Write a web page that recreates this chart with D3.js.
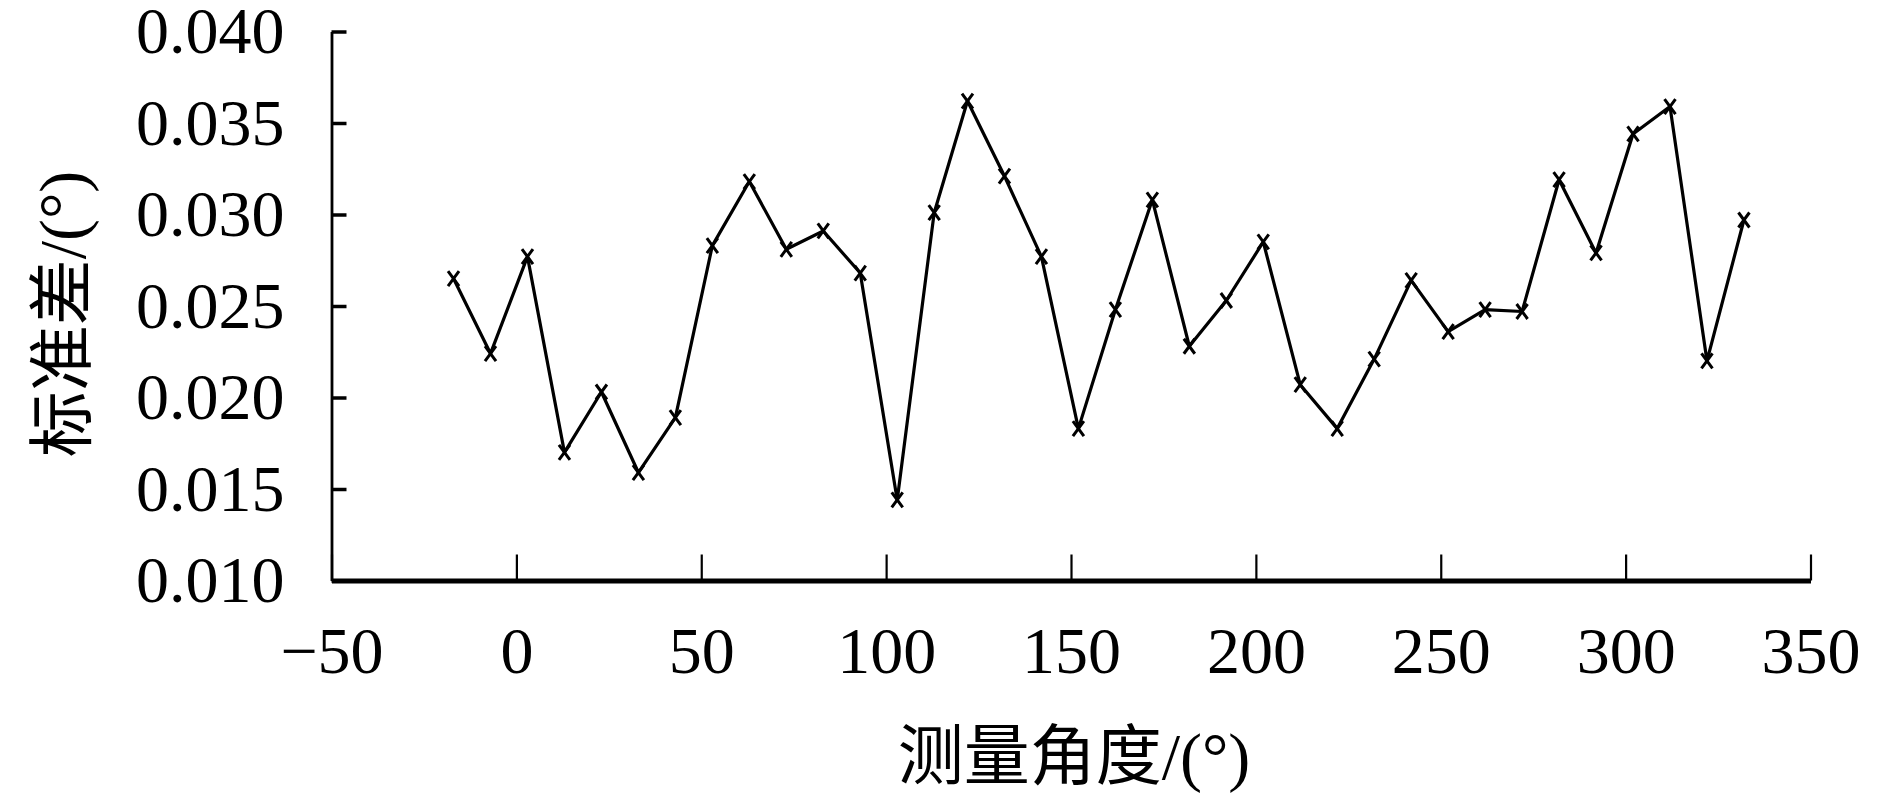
<!DOCTYPE html>
<html>
<head>
<meta charset="utf-8">
<script src="https://cdn.jsdelivr.net/npm/d3@7/dist/d3.min.js"></script>
<style>
  body { margin: 0; background: #fff; }
  .tick text { font-family: "Liberation Serif", "Times New Roman", serif; font-size: 66px; fill: #000; }
  .axis-title { font-family: "Liberation Serif", "Noto Sans CJK SC", serif; font-size: 66px; fill: #000; }
</style>
</head>
<body>
<div class="chart"></div>
<script>
// measured angle (deg) and standard deviation (deg)
var angles = [-17, -7, 3, 13, 23, 33, 43, 53, 63, 73, 83, 93, 103, 113, 122, 132, 142, 152,
              162, 172, 182, 192, 202, 212, 222, 232, 242, 252, 262, 272, 282, 292, 302, 312, 322, 332];
var stdDev = [0.0265, 0.0224, 0.0277, 0.0170, 0.0203, 0.0159, 0.0189, 0.0283, 0.0318, 0.0281,
              0.0291, 0.0268, 0.0144, 0.0301, 0.0362, 0.0321, 0.0277, 0.0183, 0.0248, 0.0308,
              0.0228, 0.0253, 0.0285, 0.0207, 0.0183, 0.0221, 0.0264, 0.0236, 0.0248, 0.0247,
              0.0319, 0.0279, 0.0344, 0.0359, 0.0220, 0.0297];

var xTicks = [-50, 0, 50, 100, 150, 200, 250, 300, 350];
var yTicks = [0.010, 0.015, 0.020, 0.025, 0.030, 0.035, 0.040];

var xLabel = "测量角度/(°)";
var yLabel = "标准差/(°)";

var svgWidth = 1890;
var svgHeight = 798;

var svg = d3.select(".chart")
    .append("svg")
    .attr("width", svgWidth)
    .attr("height", svgHeight)
    .style("display", "block");

var xScale = d3.scaleLinear().domain([-50, 350]).range([331.5, 1810.5]);
var yScale = d3.scaleLinear().domain([0.010, 0.040]).range([580.5, 31.5]);

// y axis
var leftAxis = d3.axisLeft(yScale)
    .tickValues(yTicks)
    .tickFormat(d3.format(".3f"))
    .tickSizeInner(-15)
    .tickSizeOuter(0)
    .tickPadding(47);

var yAxisG = svg.append("g")
    .attr("transform", "translate(" + xScale.range()[0] + ",0)")
    .call(leftAxis);
yAxisG.select(".domain").attr("stroke", "#000").attr("stroke-width", 2.8);
yAxisG.selectAll(".tick line").attr("stroke", "#000").attr("stroke-width", 3.5);

// x axis
var bottomAxis = d3.axisBottom(xScale)
    .tickValues(xTicks)
    .tickSizeInner(-26)
    .tickSizeOuter(0)
    .tickPadding(46);

var xAxisG = svg.append("g")
    .attr("transform", "translate(0," + yScale.range()[0] + ")")
    .call(bottomAxis);
xAxisG.select(".domain").attr("stroke", "#000").attr("stroke-width", 5);
xAxisG.selectAll(".tick line").attr("stroke", "#000").attr("stroke-width", 2.2);

var points = angles.map(function(a, i) { return { x: a, y: stdDev[i] }; });

var line = d3.line()
    .x(function(d) { return xScale(d.x); })
    .y(function(d) { return yScale(d.y); });

svg.append("path")
    .datum(points)
    .attr("d", line)
    .attr("fill", "none")
    .attr("stroke", "#000")
    .attr("stroke-width", 3.2)
    .attr("stroke-linejoin", "round");

svg.selectAll(".marker")
    .data(points)
    .enter()
    .append("path")
    .attr("class", "marker")
    .attr("transform", function(d) {
        return "translate(" + xScale(d.x) + "," + yScale(d.y) + ")";
    })
    .attr("d", "M-5.5,-7.5L5.5,7.5M-5.5,7.5L5.5,-7.5")
    .attr("stroke", "#000")
    .attr("stroke-width", 3)
    .attr("fill", "none");

// axis titles
svg.append("text")
    .attr("class", "axis-title")
    .attr("x", 1074)
    .attr("y", 779)
    .attr("text-anchor", "middle")
    .text(xLabel);

svg.append("text")
    .attr("class", "axis-title")
    .attr("transform", "translate(62,314) rotate(-90)")
    .attr("text-anchor", "middle")
    .attr("dominant-baseline", "central")
    .text(yLabel);
</script>
</body>
</html>
